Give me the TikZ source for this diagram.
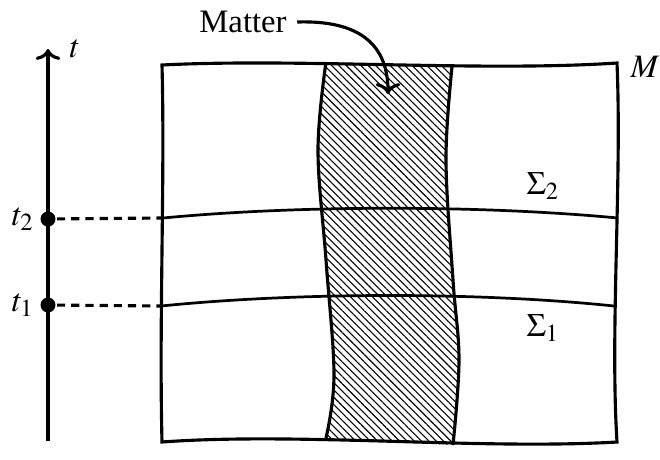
\documentclass[tikz,border=0pt]{standalone}
\usepackage{mathptmx}
\usepackage{fontspec}
\setmainfont{Liberation Serif}
\usetikzlibrary{arrows.meta,patterns.meta}
\begin{document}
\begin{tikzpicture}[x=0.0129cm, y=-0.0129cm, line width=1.15pt, font=\large,
  >={To[length=4pt,width=9pt]},
  slice/.style={line width=1pt},
  tick/.style={circle, fill, inner sep=0pt, minimum size=5.5pt},
  matterfill/.style={pattern={Lines[angle=-45, distance=1.9pt, line width=0.4pt]}}]
\useasboundingbox (0,0) rectangle (660,459);
% matter strip
\fill[matterfill] plot[smooth, tension=0.6] coordinates {(326,62) (318,150) (326,260) (334,375) (326,438)}
  -- plot[smooth, tension=0.6] coordinates {(453,445) (459,360) (453,280) (446,160) (452,67)} -- cycle;
% spacetime M
\draw (162,65) .. controls (300,58) and (480,72) .. (617,63)
  .. controls (622,180) and (610,330) .. (617,442)
  .. controls (480,450) and (300,432) .. (162,442)
  .. controls (159,320) and (165,180) .. cycle;
\draw plot[smooth, tension=0.6] coordinates {(326,62) (318,150) (326,260) (334,375) (326,438)};
\draw plot[smooth, tension=0.6] coordinates {(452,67) (446,160) (453,280) (459,360) (453,445)};
% slices
\coordinate (s2l) at (163,218);
\coordinate (s2r) at (618,218);
\coordinate (s1l) at (161,306);
\coordinate (s1r) at (614,306);
\draw[slice] (s2l) .. controls (300,205) and (480,205) .. (s2r);
\draw[slice] (s1l) .. controls (300,292) and (480,292) .. (s1r);
\node (sig2) at (543,186) {$\Sigma_2$};
\node (sig1) at (543,328) {$\Sigma_1$};
\node (mlab) at (645,67) {$M$};
% time axis
\coordinate (tbot) at (48,441);
\coordinate (ttop) at (48,49);
\draw[->] (tbot) -- (ttop);
\node (tlab) at (75,49) {$t$};
\node[tick] (t2) at (48,219) {};
\node[tick] (t1) at (48,305) {};
\node (t2lab) at (23,219) {$t_2$};
\node (t1lab) at (23,305) {$t_1$};
\draw[dashed, dash pattern=on 3pt off 2.2pt] (t2) -- (s2l);
\draw[dashed, dash pattern=on 3pt off 2.2pt] (t1) -- (s1l);
% label
\node (matter) at (243,22) {Matter};
\coordinate (mtip) at (388,94);
\draw[->] (matter.east) .. controls (360,20) and (388,45) .. (mtip);
\end{tikzpicture}
\end{document}
